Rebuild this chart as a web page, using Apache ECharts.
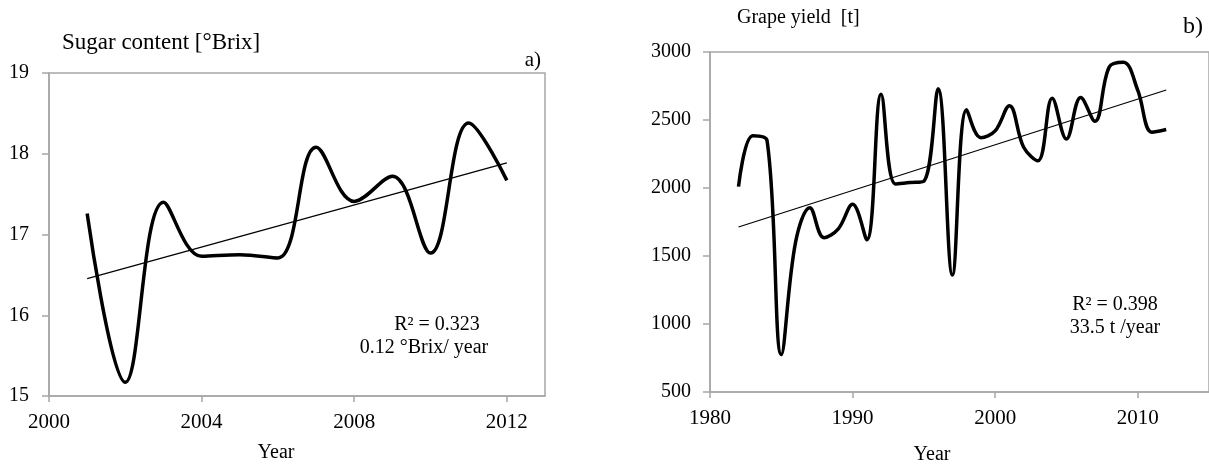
<!DOCTYPE html>
<html>
<head>
<meta charset="utf-8">
<script src="https://cdn.jsdelivr.net/npm/echarts@6/dist/echarts.min.js"></script>
<style>
  html, body { margin: 0; padding: 0; background: #fff; }
  #chart { width: 1209px; height: 465px; }
</style>
</head>
<body>
<div id="chart"></div>
<script>
// a) sugar content of the must, per harvest year
const sugarYears = [2001, 2002, 2003, 2004, 2005, 2006, 2007, 2008, 2009, 2010, 2011, 2012];
const sugarBrix  = [17.26, 15.17, 17.40, 16.73, 16.75, 16.71, 18.08, 17.41, 17.72, 16.77, 18.38, 17.67];
const sugarXTicks = [2000, 2004, 2008, 2012];

// b) grape yield, per harvest year
const yieldYears = [1982, 1983, 1984, 1985, 1986, 1987, 1988, 1989, 1990, 1991,
                    1992, 1993, 1994, 1995, 1996, 1997, 1998, 1999, 2000, 2001,
                    2002, 2003, 2004, 2005, 2006, 2007, 2008, 2009, 2010, 2011, 2012];
const grapeYield = [2010, 2385, 2350, 775, 1600, 1855, 1635, 1700, 1880, 1620,
                    2690, 2030, 2040, 2050, 2730, 1360, 2575, 2370, 2420, 2605,
                    2300, 2200, 2660, 2360, 2665, 2490, 2890, 2925, 2720, 2410, 2430];
const yieldXTicks = [1980, 1990, 2000, 2010];

// least-squares trend line, returned as its two end points
function linearTrend(xs, ys) {
  const n = xs.length;
  const mx = xs.reduce((s, v) => s + v, 0) / n;
  const my = ys.reduce((s, v) => s + v, 0) / n;
  let sxy = 0, sxx = 0;
  for (let i = 0; i < n; i++) {
    sxy += (xs[i] - mx) * (ys[i] - my);
    sxx += (xs[i] - mx) * (xs[i] - mx);
  }
  const b = sxy / sxx;
  const a = my - b * mx;
  return [[xs[0], a + b * xs[0]], [xs[n - 1], a + b * xs[n - 1]]];
}

const zip = (xs, ys) => xs.map((x, i) => [x, ys[i]]);
const plain = v => String(v);

const FONT = '"Liberation Serif", "Times New Roman", serif';
const AXIS_GREY = '#a6a6a6';

function xAxisFor(gridIndex, min, max, ticks) {
  return {
    type: 'value', gridIndex, min, max,
    axisLine: { onZero: false, lineStyle: { color: AXIS_GREY, width: 1.5 } },
    axisTick: { show: true, inside: false, length: 6, customValues: ticks,
                lineStyle: { color: AXIS_GREY, width: 1.5 } },
    axisLabel: { customValues: ticks, formatter: plain, margin: 16, color: '#000',
                 fontFamily: FONT, fontSize: 21 },
    splitLine: { show: false }
  };
}

function yAxisFor(gridIndex, min, max, interval, margin) {
  return {
    type: 'value', gridIndex, min, max, interval,
    axisLine: { show: true, onZero: false, lineStyle: { color: AXIS_GREY, width: 1.5 } },
    axisTick: { show: true, inside: false, length: 7, lineStyle: { color: AXIS_GREY, width: 1.5 } },
    axisLabel: { margin, formatter: plain, color: '#000', fontFamily: FONT, fontSize: 20 },
    splitLine: { show: false }
  };
}

function label(text, x, y, size, align) {
  return {
    type: 'text', x, y, silent: true,
    style: { text, fill: '#000', font: size + 'px ' + FONT, align: align || 'left', verticalAlign: 'middle' }
  };
}

const chart = echarts.init(document.getElementById('chart'), null, { renderer: 'canvas' });

chart.setOption({
  animation: false,
  backgroundColor: '#fff',
  grid: [
    { left: 49, top: 73, width: 496, height: 323, show: true,
      borderColor: AXIS_GREY, borderWidth: 1.5, backgroundColor: 'transparent' },
    { left: 710, top: 52, width: 500, height: 340, show: true,
      borderColor: AXIS_GREY, borderWidth: 1.5, backgroundColor: 'transparent' }
  ],
  xAxis: [
    xAxisFor(0, 2000, 2013, sugarXTicks),
    xAxisFor(1, 1980, 2015, yieldXTicks)
  ],
  yAxis: [
    yAxisFor(0, 15, 19, 1, 20),
    yAxisFor(1, 500, 3000, 500, 19)
  ],
  series: [
    { type: 'line', xAxisIndex: 0, yAxisIndex: 0, data: zip(sugarYears, sugarBrix),
      smooth: 0.38, showSymbol: false, lineStyle: { color: '#000', width: 3.5 } },
    { type: 'line', xAxisIndex: 0, yAxisIndex: 0, data: linearTrend(sugarYears, sugarBrix),
      showSymbol: false, lineStyle: { color: '#000', width: 1.2 } },
    { type: 'line', xAxisIndex: 1, yAxisIndex: 1, data: zip(yieldYears, grapeYield),
      smooth: 0.38, showSymbol: false, lineStyle: { color: '#000', width: 3.5 } },
    { type: 'line', xAxisIndex: 1, yAxisIndex: 1, data: linearTrend(yieldYears, grapeYield),
      showSymbol: false, lineStyle: { color: '#000', width: 1.2 } }
  ],
  graphic: [
    label('Sugar content [°Brix]', 62, 43, 23),
    label('a)', 541, 60, 21, 'right'),
    label('R² = 0.323', 437, 325, 20, 'center'),
    label('0.12 °Brix/ year', 424, 348, 20, 'center'),
    label('Year', 276, 453, 20, 'center'),
    label('Grape yield  [t]', 737, 18, 20),
    label('b)', 1203, 27, 24, 'right'),
    label('R² = 0.398', 1115, 305, 20, 'center'),
    label('33.5 t /year', 1115, 328, 20, 'center'),
    label('Year', 932, 455, 20, 'center')
  ]
});
</script>
</body>
</html>
